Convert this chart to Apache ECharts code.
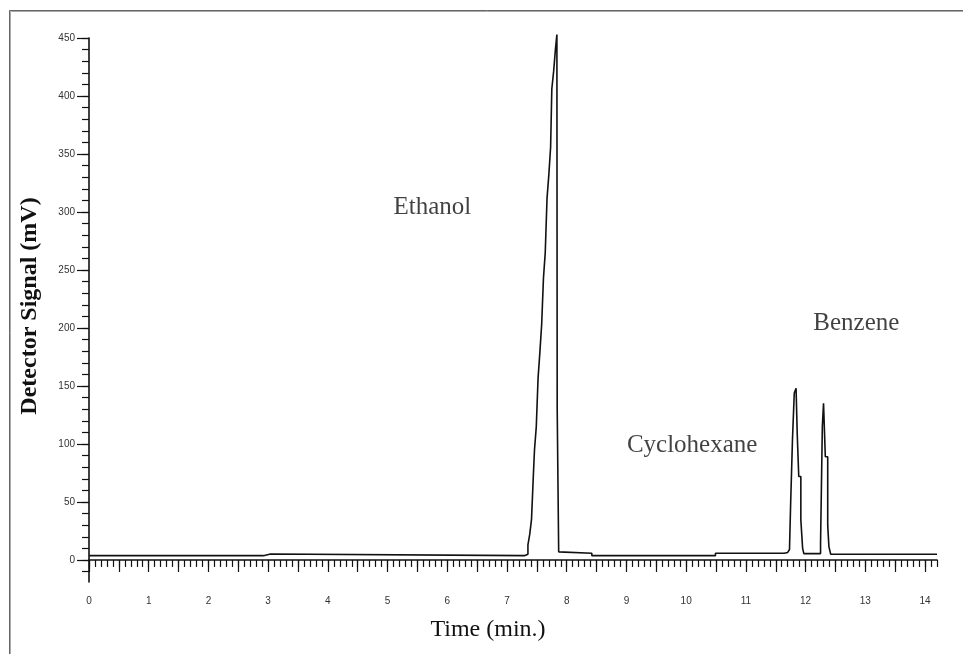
<!DOCTYPE html>
<html>
<head>
<meta charset="utf-8">
<script src="https://cdn.jsdelivr.net/npm/echarts/dist/echarts.min.js"></script>
<style>
  html, body { margin: 0; padding: 0; background: #fff; }
  #main { width: 963px; height: 654px; }
</style>
</head>
<body>
<div id="main"></div>
<script>
// chromatogram trace (min, mV) - drawn as a step line
var time = [0, 2.92, 3.04, 7.29, 7.35, 7.38, 7.41, 7.44, 7.46, 7.49, 7.52, 7.55, 7.58, 7.61, 7.64,
  7.67, 7.70, 7.73, 7.75, 7.78, 7.81, 7.835, 7.84, 7.865, 7.89, 8.42, 10.49, 11.64, 11.70, 11.73,
  11.75, 11.78, 11.81, 11.84, 11.86, 11.885, 11.92, 11.95, 11.97, 12.25, 12.28, 12.30, 12.33,
  12.37, 12.39, 12.42, 14.2];
var signal = [3.7, 5.2, 3.7, 5.0, 13, 22, 35, 72, 95, 115, 157, 179, 203, 243, 265,
  312, 332, 356, 406, 421, 440, 453, 131, 7, 5.8, 3.7, 5.8, 6.5, 5.0, 9,
  50, 104, 144, 148, 108, 72, 34.5, 10, 5.5, 14.4, 115, 135, 89,
  30, 11.5, 4.9, 4.9];

// peak names and where they sit
var peakNames = ['Ethanol', 'Cyclohexane', 'Benzene'];
var peakLabelTime = [5.75, 10.1, 12.85];
var peakLabelSignal = [304, 99, 204];

// tick labels
var xLabels = [0, 1, 2, 3, 4, 5, 6, 7, 8, 9, 10, 11, 12, 13, 14];
var yLabels = [0, 50, 100, 150, 200, 250, 300, 350, 400, 450];

var xMajor = [], xMinor = [], yMinor = [];
for (var i = 0; i <= 28; i++) xMajor.push(i * 0.5);
for (var i = 0; i <= 142; i++) xMinor.push(Math.round(i * 10) / 100);
for (var i = -1; i <= 45; i++) yMinor.push(i * 10);

var trace = time.map(function (t, i) { return [t, signal[i]]; });
var labels = peakNames.map(function (n, i) { return { name: n, value: [peakLabelTime[i], peakLabelSignal[i]] }; });

var myChart = echarts.init(document.getElementById('main'));
var axisColor = '#111';
var tickFont = { fontFamily: 'Liberation Sans', fontSize: 10, color: '#333' };

var option = {
    animation: false,
    backgroundColor: '#fff',
    grid: { left: 89, right: 26, top: 38, bottom: 72, containLabel: false, outerBoundsMode: 'none' },
    xAxis: [{
        type: 'value', min: 0, max: 14.2, position: 'bottom',
        axisLine: { lineStyle: { color: axisColor, width: 1.6 } },
        axisTick: { customValues: xMajor, length: 12, lineStyle: { color: axisColor, width: 1.2 } },
        axisLabel: Object.assign({ customValues: xLabels, margin: 14 }, tickFont),
        splitLine: { show: false }
    }, {
        type: 'value', min: 0, max: 14.2, position: 'bottom',
        axisLine: { show: false },
        axisTick: { customValues: xMinor, length: 7, lineStyle: { color: axisColor, width: 1.2 } },
        axisLabel: { show: false },
        splitLine: { show: false }
    }],
    yAxis: [{
        type: 'value', min: -19, max: 450, position: 'left',
        axisLine: { show: true, lineStyle: { color: axisColor, width: 1.6 } },
        axisTick: { show: true, customValues: yLabels, length: 12, lineStyle: { color: axisColor, width: 1.2 } },
        axisLabel: Object.assign({ customValues: yLabels, margin: 14 }, tickFont),
        splitLine: { show: false }
    }, {
        type: 'value', min: -19, max: 450, position: 'left',
        axisLine: { show: false },
        axisTick: { show: true, customValues: yMinor, length: 7, lineStyle: { color: axisColor, width: 1.2 } },
        axisLabel: { show: false },
        splitLine: { show: false }
    }],
    series: [{
        type: 'line',
        data: trace,
        step: 'end',
        showSymbol: false,
        clip: false,
        lineStyle: { color: '#111', width: 1.6 }
    }, {
        type: 'scatter',
        data: labels,
        symbolSize: 1,
        itemStyle: { color: 'rgba(0,0,0,0)' },
        label: {
            show: true, position: 'inside', formatter: '{b}',
            fontFamily: 'Liberation Serif', fontSize: 25, color: '#111'
        }
    }],
    graphic: [
        // window frame (left + top edges)
        { type: 'rect', shape: { x: 9.5, y: 10.5, width: 1000, height: 700 }, style: { fill: null, stroke: '#666', lineWidth: 1 } },
        { type: 'rect', shape: { x: 10.5, y: 11.5, width: 1000, height: 700 }, style: { fill: null, stroke: '#aaa', lineWidth: 1 } },
        {
            type: 'text', x: 30, y: 306, rotation: Math.PI / 2,
            style: { text: 'Detector Signal (mV)', font: 'bold 24px "Liberation Serif"', fill: '#111', align: 'center', verticalAlign: 'middle' }
        },
        {
            type: 'text', x: 488, y: 630,
            style: { text: 'Time (min.)', font: '24px "Liberation Serif"', fill: '#111', align: 'center', verticalAlign: 'middle' }
        }
    ]
};
myChart.setOption(option);
</script>
</body>
</html>
